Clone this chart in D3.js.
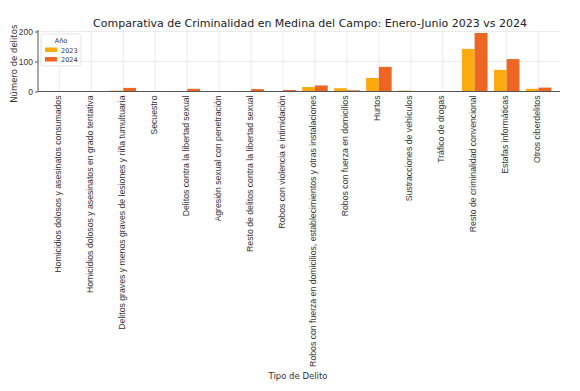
<!DOCTYPE html>
<html>
<head>
<meta charset="utf-8">
<script src="https://cdn.jsdelivr.net/npm/d3@7"></script>
<style>
  body { margin: 0; background: #fff; }
  svg { font-family: "DejaVu Sans", sans-serif; }
</style>
</head>
<body>
<script>
// data
const categories = [
	"Homicidios dolosos y asesinatos consumados",
	"Homicidios dolosos y asesinatos en grado tentativa",
	"Delitos graves y menos graves de lesiones y riña tumultuaria",
	"Secuestro",
	"Delitos contra la libertad sexual",
	"Agresión sexual con penetración",
	"Resto de delitos contra la libertad sexual",
	"Robos con violencia e intimidación",
	"Robos con fuerza en domicilios, establecimientos y otras instalaciones",
	"Robos con fuerza en domicilios",
	"Hurtos",
	"Sustracciones de vehículos",
	"Tráfico de drogas",
	"Resto de criminalidad convencional",
	"Estafas informáticas",
	"Otros ciberdelitos"
];
const years = ["2023", "2024"];
const values2023 = [0, 0, 3, 0, 1, 0, 1, 1, 15, 11, 45, 3, 1, 142, 72, 9];
const values2024 = [0, 0, 12, 0, 9, 1, 8, 5, 20, 4, 82, 1, 1, 195, 108, 13];
const yTicks = [0, 100, 200];

const colors = { "2023": "#fbab0f", "2024": "#ef6524" };

const w = 580, h = 391,
	  padL = 38, padR = 560, padT = 30, padB = 91.5;

const svg = d3.select("body").append("svg")
	.attr("width", w)
	.attr("height", h);

const xScale = d3.scaleBand()
	.domain(categories)
	.range([padL, padR])
	.paddingInner(0.2)
	.paddingOuter(0.27);

const xSub = d3.scaleBand()
	.domain(years)
	.range([0, xScale.bandwidth()]);

const yScale = d3.scaleLinear()
	.domain([0, 205])
	.range([padB, padT]);

// grid
svg.append("g")
	.selectAll("line.vgrid")
	.data(categories)
	.enter()
	.append("line")
	.attr("x1", d => xScale(d) + xScale.bandwidth() / 2)
	.attr("x2", d => xScale(d) + xScale.bandwidth() / 2)
	.attr("y1", padT)
	.attr("y2", padB)
	.attr("stroke", "#e6e6e6")
	.attr("stroke-width", 0.8);

svg.append("g")
	.selectAll("line.hgrid")
	.data(yTicks)
	.enter()
	.append("line")
	.attr("x1", padL)
	.attr("x2", padR)
	.attr("y1", d => yScale(d))
	.attr("y2", d => yScale(d))
	.attr("stroke", "#e6e6e6")
	.attr("stroke-width", 0.8);

// bars
const rows = categories.map((c, i) => ({ cat: c, vals: [
	{ year: "2023", v: values2023[i] },
	{ year: "2024", v: values2024[i] }
]}));

svg.append("g")
	.selectAll("g")
	.data(rows)
	.enter()
	.append("g")
	.attr("transform", d => "translate(" + xScale(d.cat) + ",0)")
	.selectAll("rect")
	.data(d => d.vals)
	.enter()
	.append("rect")
	.attr("x", d => xSub(d.year))
	.attr("width", xSub.bandwidth())
	.attr("y", d => yScale(d.v))
	.attr("height", d => yScale(0) - yScale(d.v))
	.attr("fill", d => colors[d.year]);

// axes
const yAxis = d3.axisLeft(yScale).tickValues(yTicks).tickSize(3).tickPadding(2);
const yG = svg.append("g")
	.attr("transform", "translate(" + padL + ",0)")
	.call(yAxis);
yG.select(".domain").attr("stroke", "#555").attr("d", "M0," + padB + "V" + padT);
yG.selectAll(".tick line").attr("stroke", "#555");
yG.selectAll("text").style("font-size", "8.5px").attr("fill", "#333");

const xG = svg.append("g")
	.attr("transform", "translate(0," + padB + ")")
	.call(d3.axisBottom(xScale).tickSize(0).tickPadding(0));
xG.select(".domain").attr("stroke", "#555").attr("d", "M" + padL + ",0H" + padR);
xG.selectAll("text")
	.style("font-size", "8.7px")
	.attr("fill", "#333")
	.attr("text-anchor", "end")
	.attr("dy", null)
	.attr("y", 0)
	.attr("transform", "translate(1.5,4) rotate(-90)");

// title and axis labels
svg.append("text")
	.attr("x", 310)
	.attr("y", 27)
	.attr("text-anchor", "middle")
	.style("font-size", "11px")
	.attr("fill", "#222")
	.text("Comparativa de Criminalidad en Medina del Campo: Enero-Junio 2023 vs 2024");

svg.append("text")
	.attr("transform", "translate(17," + ((padT + padB) / 2 + 3) + ") rotate(-90)")
	.attr("text-anchor", "middle")
	.style("font-size", "8.5px")
	.attr("fill", "#333")
	.text("Número de delitos");

svg.append("text")
	.attr("x", 298)
	.attr("y", 379)
	.attr("text-anchor", "middle")
	.style("font-size", "8.5px")
	.attr("fill", "#333")
	.text("Tipo de Delito");

// legend
const legend = svg.append("g").attr("transform", "translate(41,34)");
legend.append("rect")
	.attr("width", 40)
	.attr("height", 32)
	.attr("rx", 2)
	.attr("fill", "#fff")
	.attr("fill-opacity", 0.85)
	.attr("stroke", "#ddd")
	.attr("stroke-width", 0.8);
legend.append("text")
	.attr("x", 20)
	.attr("y", 8.5)
	.attr("text-anchor", "middle")
	.style("font-size", "6.5px")
	.attr("fill", "#333")
	.text("Año");
legend.selectAll("rect.key")
	.data(years)
	.enter()
	.append("rect")
	.attr("class", "key")
	.attr("x", 4)
	.attr("y", (d, i) => 13.5 + i * 9.5)
	.attr("width", 12)
	.attr("height", 4.5)
	.attr("fill", d => colors[d]);
legend.selectAll("text.key")
	.data(years)
	.enter()
	.append("text")
	.attr("class", "key")
	.attr("x", 20)
	.attr("y", (d, i) => 18.5 + i * 9.5)
	.style("font-size", "6.5px")
	.attr("fill", "#333")
	.text(d => d);
</script>
</body>
</html>
